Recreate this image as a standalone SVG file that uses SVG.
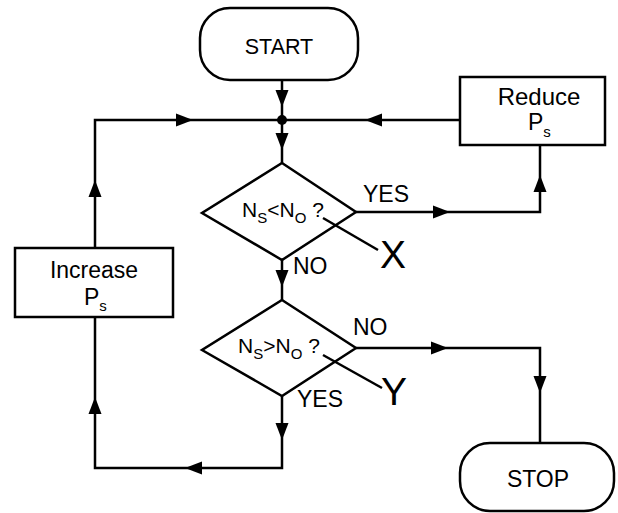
<svg xmlns="http://www.w3.org/2000/svg" width="618" height="513" viewBox="0 0 618 513">
<style>
.shape{fill:#fff;stroke:#000;stroke-width:2.5}
.ln{fill:none;stroke:#000;stroke-width:2.5}
text{font-family:"Liberation Sans",Arial,sans-serif;font-size:21px;fill:#000}
.lbl{font-size:23px}
.sub{font-size:15px}
.big{font-size:39px}
</style>
<defs>
<path id="ah" d="M0,0 L-17,-6.5 L-17,6.5 Z" fill="#000"/>
</defs>
<g id="connectors">
<polyline class="ln" points="282,80 282,163"/>
<polyline class="ln" points="460,120 95,120 95,248"/>
<polyline class="ln" points="282,260 282,300"/>
<polyline class="ln" points="356,212 540,212 540,145"/>
<polyline class="ln" points="356,348 540,348 540,443"/>
<polyline class="ln" points="282,396 282,468 95,468 95,317"/>
<circle cx="282" cy="120" r="5" fill="#000"/>
<use href="#ah" transform="translate(282,107) rotate(90)"/>
<use href="#ah" transform="translate(282,150) rotate(90)"/>
<use href="#ah" transform="translate(365,120) rotate(180)"/>
<use href="#ah" transform="translate(193,120)"/>
<use href="#ah" transform="translate(95,180) rotate(-90)"/>
<use href="#ah" transform="translate(95,397) rotate(-90)"/>
<use href="#ah" transform="translate(185,468) rotate(180)"/>
<use href="#ah" transform="translate(282,440) rotate(90)"/>
<use href="#ah" transform="translate(282,287) rotate(90)"/>
<use href="#ah" transform="translate(450,212)"/>
<use href="#ah" transform="translate(540,175) rotate(-90)"/>
<use href="#ah" transform="translate(448,348)"/>
<use href="#ah" transform="translate(540,393) rotate(90)"/>
<text class="lbl" x="363" y="202">YES</text>
<text class="lbl" x="293" y="274">NO</text>
<text class="lbl" x="353" y="335">NO</text>
<text class="lbl" x="297" y="407">YES</text>
</g>
<g id="start">
<rect class="shape" x="200" y="8" width="158" height="72" rx="30" ry="30"/>
<text x="279" y="54" text-anchor="middle" style="font-size:21.5px">START</text>
</g>
<g id="reduce">
<rect class="shape" x="460" y="77" width="145" height="68"/>
<text x="539" y="105" text-anchor="middle" style="font-size:24px">Reduce</text>
<text x="528" y="130" style="font-size:23px">P<tspan class="sub" y="137">s</tspan></text>
</g>
<g id="increase">
<rect class="shape" x="15" y="248" width="158" height="69"/>
<text x="94" y="278" text-anchor="middle" style="font-size:23px">Increase</text>
<text x="84" y="305" style="font-size:23px">P<tspan class="sub" y="311">s</tspan></text>
</g>
<g id="decision1">
<polygon class="shape" points="282,163 356,212 282,260 202,213"/>
<text x="242" y="217">N<tspan class="sub" y="223">S</tspan><tspan y="217">&lt;N</tspan><tspan class="sub" y="223">O</tspan><tspan y="217"> ?</tspan></text>
<line class="ln" x1="323" y1="218" x2="378" y2="250"/>
<text class="big" x="380" y="268">X</text>
</g>
<g id="decision2">
<polygon class="shape" points="282,300 356,348 282,396 202,350"/>
<text x="238" y="353">N<tspan class="sub" y="359">S</tspan><tspan y="353">&gt;N</tspan><tspan class="sub" y="359">O</tspan><tspan y="353"> ?</tspan></text>
<line class="ln" x1="323" y1="355" x2="382" y2="388"/>
<text class="big" x="381" y="405">Y</text>
</g>
<g id="stop">
<rect class="shape" x="460" y="443" width="154" height="68" rx="30" ry="30"/>
<text x="538" y="487" text-anchor="middle" style="font-size:23px">STOP</text>
</g>
</svg>
